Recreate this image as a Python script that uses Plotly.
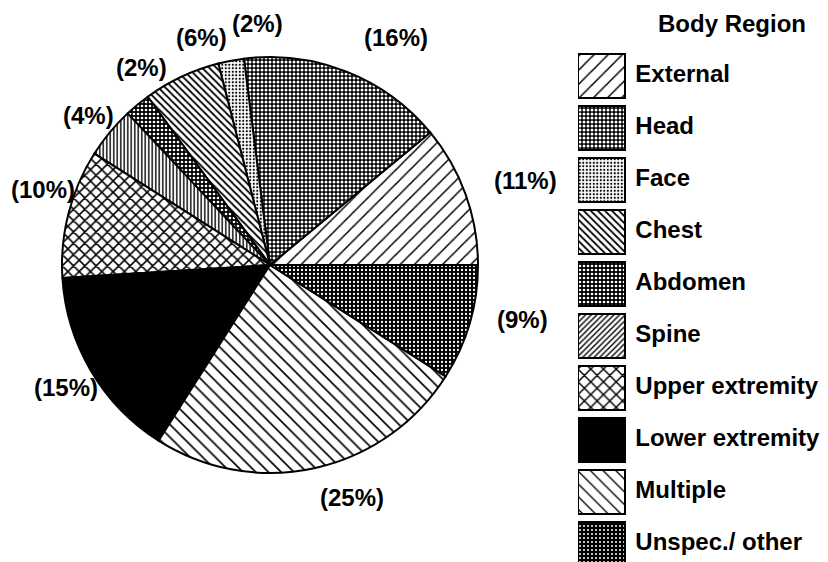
import math
import plotly.graph_objects as go

# ---- data ----
regions = ["External", "Head", "Face", "Chest", "Abdomen", "Spine",
           "Upper extremity", "Lower extremity", "Multiple", "Unspec./ other"]
percents = [11, 16, 2, 6, 2, 4, 10, 15, 25, 9]
pct_labels = ["(11%)", "(16%)", "(2%)", "(6%)", "(2%)", "(4%)",
              "(10%)", "(15%)", "(25%)", "(9%)"]
legend_title = "Body Region"

# ---- styles ----
W, H = 828, 562
FONT = "Liberation Sans, Arial, Helvetica, sans-serif"
FS = 24

pie_shape = ["/", ".", ".", "\\", ".", "|", "x", "", "\\", "."]
pie_bg = ["white", "black", "white", "white", "black", "white", "white", "black", "white", "black"]
pie_fg = ["black", "white", "black", "black", "white", "black", "black", "black", "black", "white"]
pie_size = [10, 4, 3.5, 5, 4, 3.5, 8, 8, 9, 4]
pie_sol = [0.15, 0.45, 0.3, 0.35, 0.35, 0.4, 0.35, 0.3, 0.18, 0.25]

leg_shape = ["/", ".", ".", "\\", ".", "/", "x", "", "\\", "."]
leg_size = [10, 4, 3.5, 5, 4, 4, 9, 8, 9, 4]
leg_sol = [0.15, 0.45, 0.3, 0.35, 0.35, 0.35, 0.3, 0.3, 0.15, 0.2]

# label placement tweaks (angle nudge in degrees, extra radial gap in px)
label_nudge = [-1.4, -7.4, -7.8, -8.5, -6.6, 0, -3.9, 0.3, 6.8, 3.9]
label_gap = [61, 52, 34, 29, 28, 27, 31, 30, 39, 50]

# pie geometry (pixels)
cx, cy, R = 270, 265, 208
dom_x = [(cx - R) / W, (cx + R) / W]
dom_y = [(H - cy - R) / H, (H - cy + R) / H]

total = sum(percents)
# plotly places the first counterclockwise slice clockwise of `rotation`,
# so shift so that the first slice starts at 3 o'clock
rot = 90 - 360 * percents[0] / total

fig = go.Figure()

fig.add_trace(go.Pie(
    labels=regions, values=percents, sort=False,
    direction="counterclockwise", rotation=rot,
    textinfo="none", hoverinfo="label+percent",
    showlegend=False,
    domain=dict(x=dom_x, y=dom_y),
    marker=dict(
        colors=pie_bg,
        line=dict(color="black", width=2),
        pattern=dict(shape=pie_shape, fgcolor=pie_fg, bgcolor=pie_bg,
                     size=pie_size, solidity=pie_sol, fillmode="replace"),
    ),
))

# percentage labels placed outside, near each slice's mid-angle
annotations = []
cum = 0.0
for v, lab, nd, gap in zip(percents, pct_labels, label_nudge, label_gap):
    mid = (cum + v / 2) / total * 360 + nd
    cum += v
    a = math.radians(mid)
    d = R + gap
    px = cx + d * math.cos(a)
    py = cy - d * math.sin(a)
    annotations.append(dict(
        x=px / W, y=1 - py / H, xref="paper", yref="paper",
        text=f"<b>{lab}</b>", showarrow=False,
        xanchor="center", yanchor="middle",
        font=dict(family=FONT, size=FS, color="black"),
    ))

# legend built as swatch bars + text
sw = 47  # px per x unit
leg_x0 = 578
for i, r in enumerate(regions):
    fig.add_trace(go.Bar(
        x=[1], y=[i], orientation="h", width=0.83,
        xaxis="x", yaxis="y", showlegend=False, hoverinfo="skip",
        marker=dict(
            color=pie_bg[i],
            line=dict(color="black", width=2),
            pattern=dict(shape=leg_shape[i], fgcolor=pie_fg[i], bgcolor=pie_bg[i],
                         size=leg_size[i], solidity=leg_sol[i], fillmode="replace"),
        ),
    ))
fig.add_trace(go.Scatter(
    x=[1.22] * len(regions), y=list(range(len(regions))), mode="text",
    text=[f"<b>{r}</b>" for r in regions], textposition="middle right",
    textfont=dict(family=FONT, size=FS, color="black"),
    showlegend=False, hoverinfo="skip", xaxis="x", yaxis="y",
))

annotations.append(dict(
    x=732 / W, y=1 - 23 / H, xref="paper", yref="paper",
    text=f"<b>{legend_title}</b>", showarrow=False,
    xanchor="center", yanchor="middle",
    font=dict(family=FONT, size=FS, color="black"),
))

step = 52.0
top_v = -76 / step
bot_v = H / step + top_v

fig.update_layout(
    width=W, height=H,
    margin=dict(l=0, r=0, t=0, b=0),
    paper_bgcolor="white", plot_bgcolor="rgba(0,0,0,0)",
    annotations=annotations,
    xaxis=dict(domain=[leg_x0 / W, 1], range=[0, (W - leg_x0) / sw],
               visible=False, fixedrange=True),
    yaxis=dict(domain=[0, 1], range=[bot_v, top_v],
               visible=False, fixedrange=True),
    barmode="overlay", bargap=0,
)

fig.write_html("out.html",
               config={"displayModeBar": False},
               post_script="document.body.style.margin='0';document.body.style.overflow='hidden';")
